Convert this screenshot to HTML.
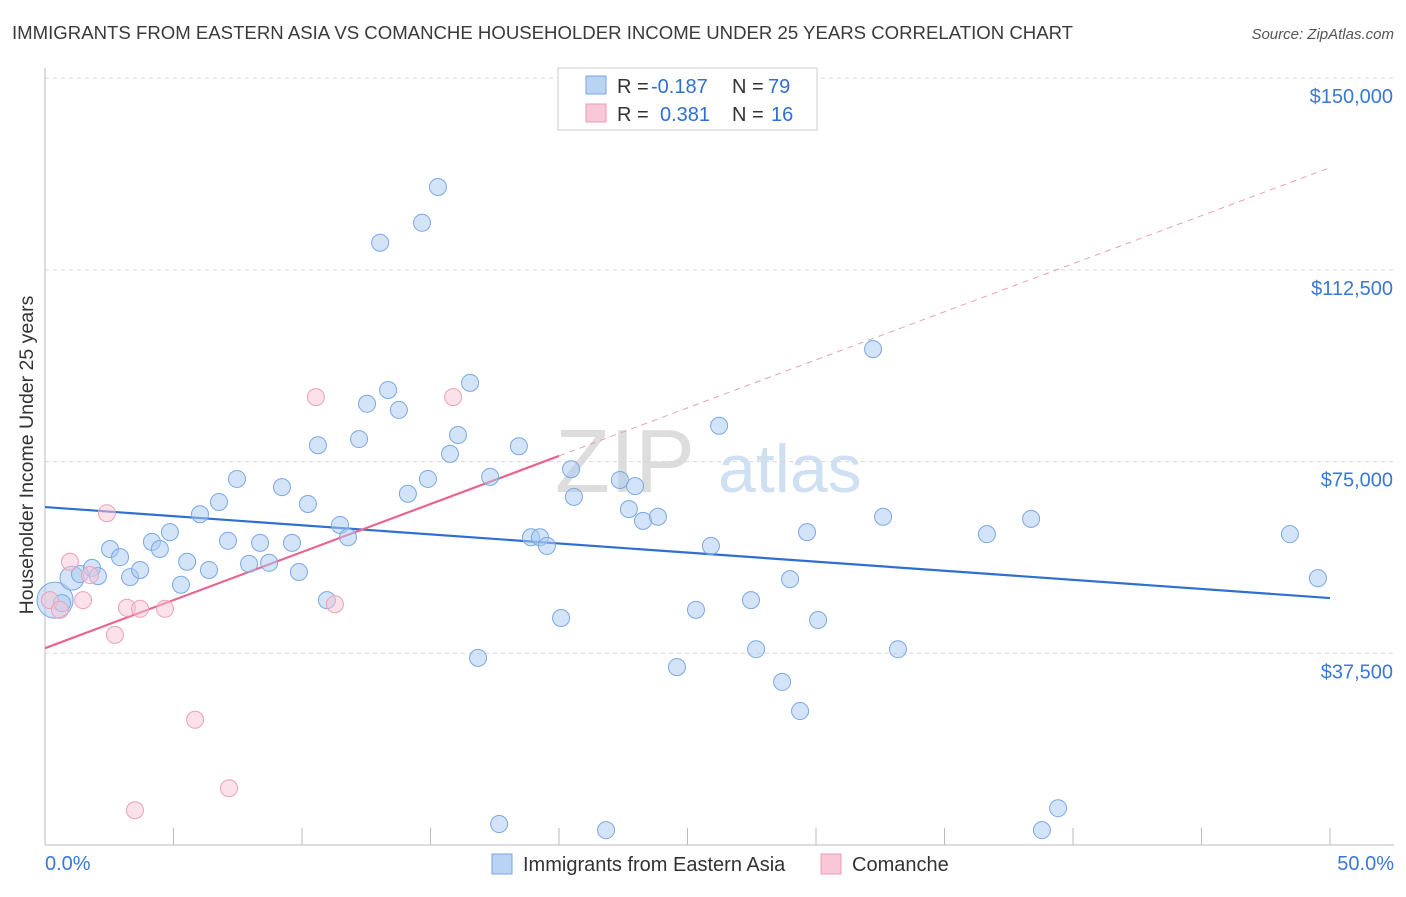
<!DOCTYPE html>
<html><head><meta charset="utf-8"><style>
body{margin:0;background:#fff;font-family:"Liberation Sans",sans-serif;}
svg text{font-family:"Liberation Sans",sans-serif;}
</style></head><body>
<svg id="chart" width="1406" height="892" xmlns="http://www.w3.org/2000/svg">
<text x="12" y="39" font-size="18.6" fill="#3a3a3a">IMMIGRANTS FROM EASTERN ASIA VS COMANCHE HOUSEHOLDER INCOME UNDER 25 YEARS CORRELATION CHART</text>
<text x="1394" y="39" font-size="15" fill="#555" text-anchor="end" font-style="italic">Source: ZipAtlas.com</text>
<text x="33" y="455" font-size="19.5" fill="#333" text-anchor="middle" transform="rotate(-90 33 455)">Householder Income Under 25 years</text>
<text x="555" y="492" font-size="90" fill="#ddd" font-family="Liberation Serif">ZIP</text>
<text x="718" y="492" font-size="68" fill="#cfe0f3">atlas</text>
<g id="grid"></g><g id="axes"></g><g id="lines"></g><g id="pts"></g>
<g>
<rect x="558" y="68" width="259" height="62" fill="#fff" stroke="#ccc"/>
<rect x="586" y="76" width="20" height="18" fill="#b8d3f3" stroke="#7aa6dd"/>
<rect x="586" y="104" width="20" height="18" fill="#f9c8d6" stroke="#eb9ab2"/>
<text x="617" y="93" font-size="20" fill="#333">R =</text>
<text x="651" y="93" font-size="20" fill="#2f6fd1">-0.187</text>
<text x="732" y="93" font-size="20" fill="#333">N =</text>
<text x="768" y="93" font-size="20" fill="#2f6fd1">79</text>
<text x="617" y="121" font-size="20" fill="#333">R =</text>
<text x="660" y="121" font-size="20" fill="#2f6fd1">0.381</text>
<text x="732" y="121" font-size="20" fill="#333">N =</text>
<text x="771" y="121" font-size="20" fill="#2f6fd1">16</text>
</g>
<g>
<rect x="492" y="854" width="20" height="20" fill="#b8d3f3" stroke="#7aa6dd"/>
<text x="523" y="871" font-size="20" fill="#333">Immigrants from Eastern Asia</text>
<rect x="821" y="854" width="20" height="20" fill="#f9c8d6" stroke="#eb9ab2"/>
<text x="852" y="871" font-size="20" fill="#333">Comanche</text>
</g>
</svg>
<script>
const blueX=[0.39,0.66,1.05,1.36,1.83,2.06,2.53,2.92,3.31,3.70,4.16,4.47,4.86,5.29,5.53,6.03,6.38,6.77,7.12,7.47,7.94,8.37,8.72,9.22,9.61,9.88,10.23,10.62,10.97,11.48,11.79,12.22,12.53,13.04,13.35,13.77,14.12,14.67,14.90,15.29,15.76,16.07,16.54,16.85,17.32,17.67,18.44,18.91,19.26,19.53,20.08,20.47,20.58,21.83,22.37,22.72,22.96,23.27,23.85,24.59,25.33,25.91,26.23,27.47,27.67,28.68,28.99,29.38,29.65,30.08,32.22,32.61,33.19,36.65,38.37,38.79,39.42,48.44,49.53];
const blueY=[47900,47300,52200,53000,54200,52600,57900,56300,52400,53800,59300,57900,61200,50900,55400,64700,53800,67100,59500,71600,55000,59100,55200,70000,59100,53400,66700,78200,47900,62600,60200,79400,86300,117800,89000,85100,68700,121700,71600,128700,76500,80200,90400,36600,72000,4100,78000,60200,60200,58500,44400,73500,68100,2900,71400,65700,70200,63400,64200,34800,46000,58500,82000,47900,38300,31900,52000,26200,61200,44000,97000,64200,38300,60800,63800,2900,7200,60800,52200];
const pinkX=[0.19,0.58,0.97,1.48,1.75,2.41,2.72,3.19,3.70,4.67,5.84,7.16,3.50,10.54,11.28,15.88];
const pinkY=[47900,46000,55400,47900,52800,64900,41100,46400,46200,46200,24500,11100,6800,87600,47100,87600];
const blueTrend=[66100,48300]; // value at 0% and 50%
const pinkTrend=[38500,76100,20]; // value at 0%, value at end%, end%
const yTicks=[37500,75000,112500,150000];
const yTickLabels=["$37,500","$75,000","$112,500","$150,000"];
const NS="http://www.w3.org/2000/svg";
const xs=v=>45+v*25.7, ys=v=>845-v/195.6;
function mk(t,a,p){const e=document.createElementNS(NS,t);for(const k in a)e.setAttribute(k,a[k]);document.getElementById(p).appendChild(e);return e;}
yTicks.forEach((t,i)=>{
 const g=mk('line',{x1:45,x2:1394,y1:ys(t),y2:ys(t),stroke:'#d8d8d8','stroke-dasharray':'4,4'},'grid');
 
 
 const tx=mk('text',{x:1393,y:ys(t)+25,'font-size':20,fill:'#3a78d4','text-anchor':'end'},'axes');
 tx.textContent=yTickLabels[i];
 
 
});
mk('line',{x1:45,x2:45,y1:68,y2:845,stroke:'#bbb'},'axes');
mk('line',{x1:45,x2:1394,y1:845,y2:845,stroke:'#bbb'},'axes');
for(let i=0;i<=10;i++){const t=mk('line',{x1:xs(i*5),x2:xs(i*5),y1:828,y2:845,stroke:'#bbb'},'axes');
 
 }
let a=mk('text',{x:45,y:870,'font-size':20,fill:'#3a78d4'},'axes');a.textContent='0.0%';


a=mk('text',{x:1394,y:870,'font-size':20,fill:'#3a78d4','text-anchor':'end'},'axes');a.textContent='50.0%';


blueX.forEach((x,i)=>{const r=i===0?18:(i===2?12:8.5);
 const c=mk('circle',{cx:xs(x),cy:ys(blueY[i]),r:r,fill:'rgba(170,202,242,0.5)',stroke:'#7aa8e4','stroke-width':1},'pts');
 
 });
pinkX.forEach((x,i)=>{
 const c=mk('circle',{cx:xs(x),cy:ys(pinkY[i]),r:8.5,fill:'rgba(248,195,212,0.5)',stroke:'#eca2b9','stroke-width':1},'pts');
 
 });
let l=mk('line',{x1:xs(0),y1:ys(blueTrend[0]),x2:xs(50),y2:ys(blueTrend[1]),stroke:'#2f6fd1','stroke-width':2.2},'lines');


const slope=(pinkTrend[1]-pinkTrend[0])/pinkTrend[2];
l=mk('line',{x1:xs(0),y1:ys(pinkTrend[0]),x2:xs(pinkTrend[2]),y2:ys(pinkTrend[1]),stroke:'#e8648e','stroke-width':2.2},'lines');


l=mk('line',{x1:xs(pinkTrend[2]),y1:ys(pinkTrend[1]),x2:xs(50),y2:ys(pinkTrend[0]+slope*50),stroke:'#eca0b8','stroke-width':1,'stroke-dasharray':'6,5'},'lines');


</script>
</body></html>
